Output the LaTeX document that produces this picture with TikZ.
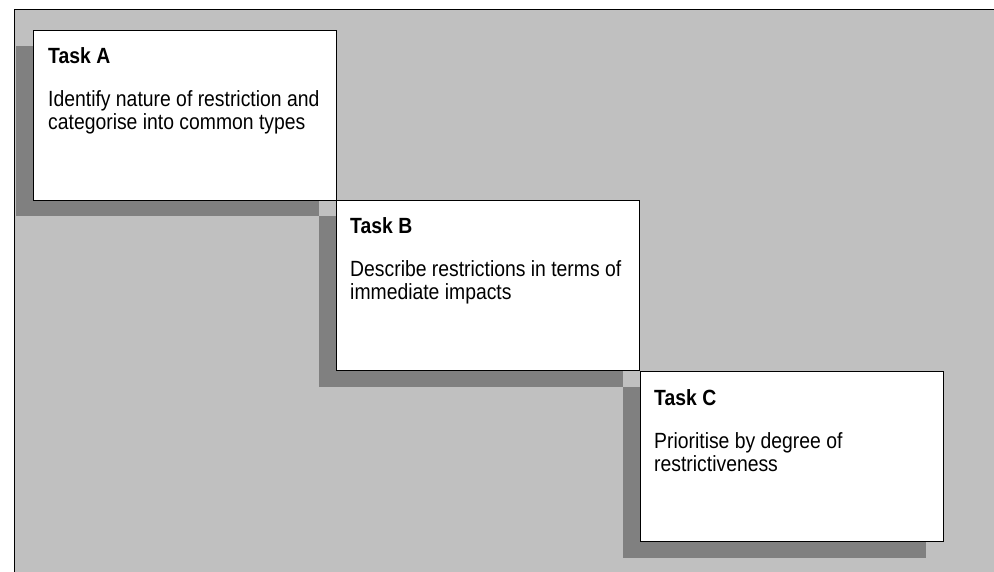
\documentclass[tikz,border=0pt]{standalone}
\usepackage{fontspec}
\setmainfont{Liberation Sans}[FakeStretch=0.88]
\usetikzlibrary{calc}
\definecolor{bgc}{HTML}{C0C0C0}
\definecolor{shc}{HTML}{808080}
\tikzset{
  taskbox/.style={draw=black, line width=1.2pt, fill=white, anchor=north west, inner sep=0pt,
    minimum width=303pt, minimum height=170pt},
  shadowbox/.style={fill=shc},
  tasktitle/.style={anchor=base west, inner sep=0pt, font=\fontsize{22pt}{23pt}\selectfont\bfseries},
  taskbody/.style={anchor=base west, inner sep=0pt, align=left, font=\fontsize{22pt}{23pt}\selectfont}
}
\begin{document}
\begin{tikzpicture}[x=1pt,y=-1pt]
\useasboundingbox (0,0) rectangle (994,572);
% background panel
\fill[bgc] (14,10) rectangle (994,572);
\draw[line width=1pt] (14,572) -- (14,10) -- (994,10);
% shadows
\fill[shadowbox] (16,46) rectangle (319,216);
\fill[shadowbox] (319,216) rectangle (623,387);
\fill[shadowbox] (623,387) rectangle (926,558);
% boxes
\node[taskbox] (A) at (33,30) {};
\node[taskbox] (B) at (336,200) {};
\node[taskbox] (C) at (640,371) {};
% texts (base anchor of a two-line node is the last line's baseline)
\node[tasktitle] (At) at ($(A.north west)+(15,34)$) {Task A};
\node[taskbody] (Ab) at ($(A.north west)+(15,100)$) {Identify nature of restriction and\\categorise into common types};
\node[tasktitle] (Bt) at ($(B.north west)+(14,34)$) {Task B};
\node[taskbody] (Bb) at ($(B.north west)+(14,100)$) {Describe restrictions in terms of\\immediate impacts};
\node[tasktitle] (Ct) at ($(C.north west)+(14,34)$) {Task C};
\node[taskbody] (Cb) at ($(C.north west)+(14,100)$) {Prioritise by degree of\\restrictiveness};
\end{tikzpicture}
\end{document}
